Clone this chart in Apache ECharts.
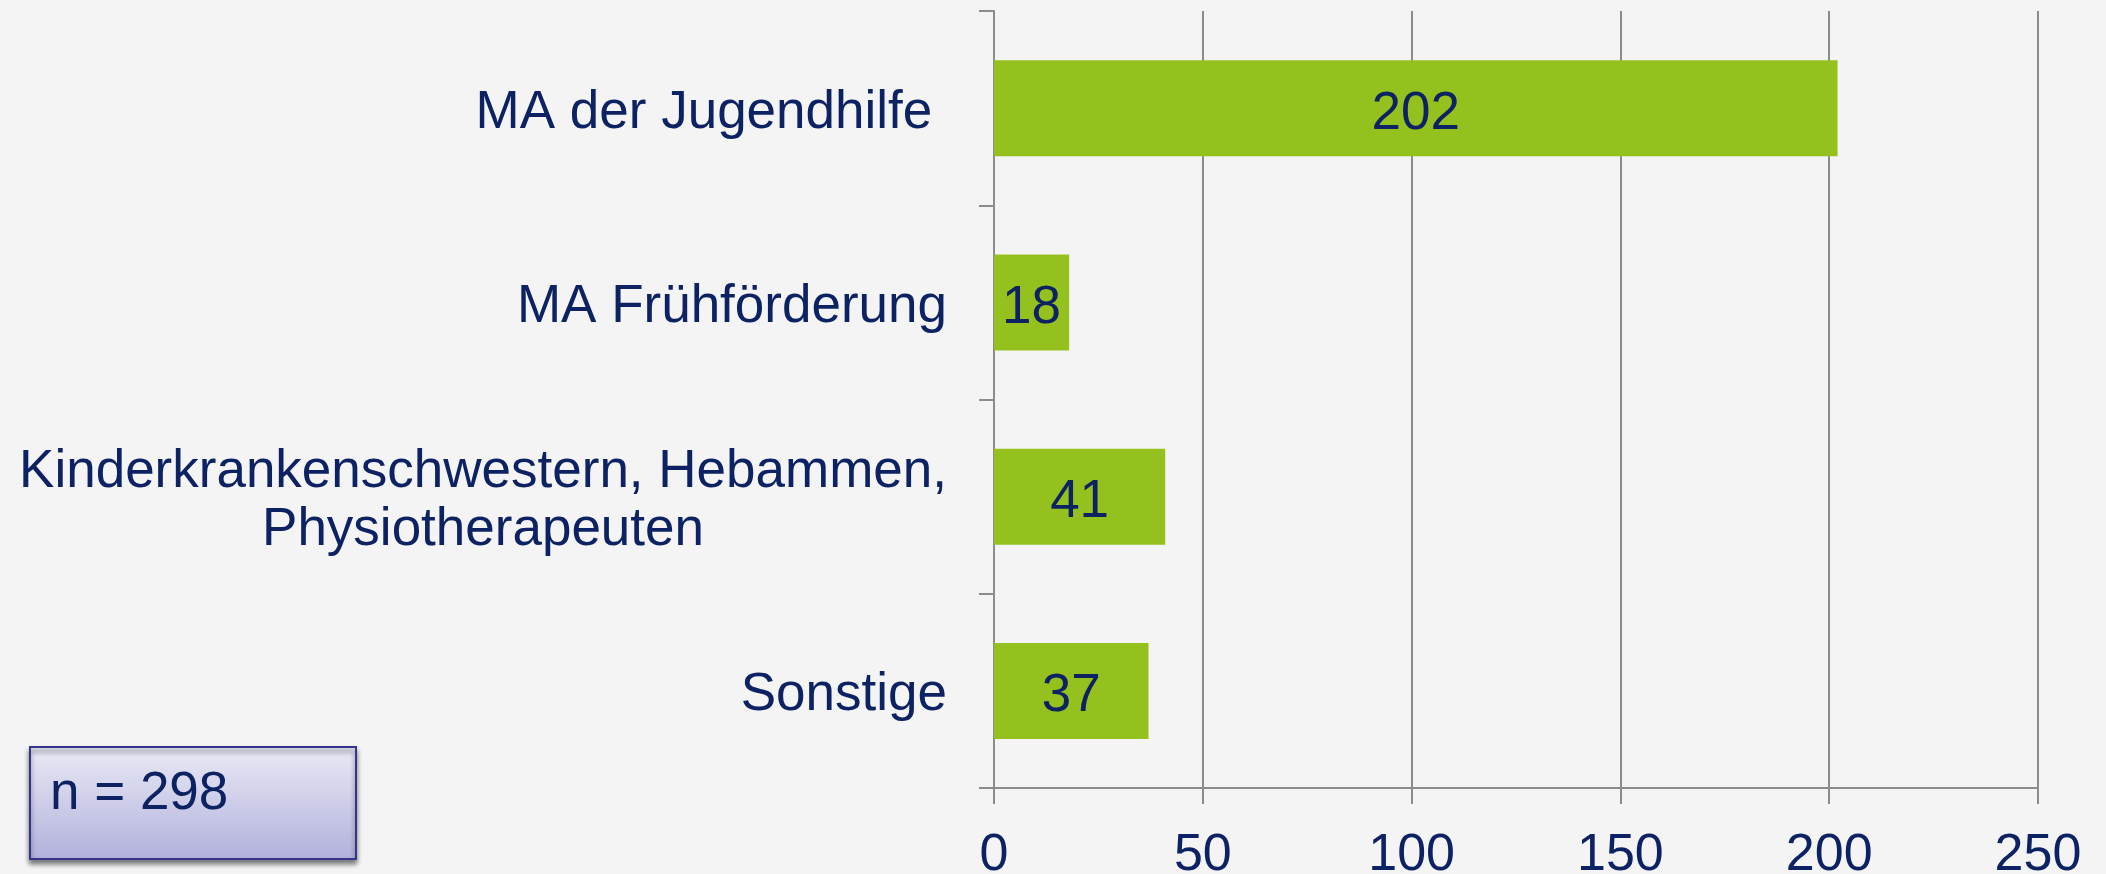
<!DOCTYPE html>
<html>
<head>
<meta charset="utf-8">
<style>
  html, body { margin: 0; padding: 0; background: #f4f4f4; }
  #chart { width: 2106px; height: 874px; }
</style>
<script src="https://cdn.jsdelivr.net/npm/echarts@6/dist/echarts.min.js"></script>
</head>
<body>
<div id="chart"></div>
<script>
// Berufsgruppen und Anzahl
var categories = [
  "MA der Jugendhilfe ",
  "MA Frühförderung",
  "Kinderkrankenschwestern, Hebammen,\nPhysiotherapeuten",
  "Sonstige"
];
var values = [202, 18, 41, 37];
var sampleLabel = "n = 298";

var textColor = "#0d2263";
var gridColor = "#8c8c8c";
var font = "'Liberation Sans', Arial, sans-serif";

var myChart = echarts.init(document.getElementById("chart"));
myChart.setOption({
  backgroundColor: "#f4f4f4",
  animation: false,
  grid: {
    left: 994,
    right: 68,
    top: 11,
    bottom: 86,
    containLabel: false,
    outerBoundsMode: "none"
  },
  xAxis: {
    type: "value",
    min: 0,
    max: 250,
    interval: 50,
    axisLine: { show: true, lineStyle: { color: gridColor, width: 2 } },
    axisTick: { show: true, length: 16, lineStyle: { color: gridColor, width: 2 } },
    splitLine: { show: true, lineStyle: { color: gridColor, width: 2 } },
    axisLabel: {
      color: textColor,
      fontFamily: font,
      fontSize: 52,
      margin: 42
    }
  },
  yAxis: {
    type: "category",
    inverse: true,
    data: categories,
    axisLine: { show: true, lineStyle: { color: gridColor, width: 2 } },
    axisTick: { show: true, length: 15, lineStyle: { color: gridColor, width: 2 } },
    axisLabel: {
      color: textColor,
      fontFamily: font,
      fontSize: 53,
      margin: 47,
      lineHeight: 58,
      padding: [10, 0, 0, 0],
      formatter: function(value) {
        // jede Zeile zentriert innerhalb des Blocks
        return value.split("\n").map(function(line) {
          return "{c|" + line + "}";
        }).join("\n");
      },
      rich: {
        c: {
          align: "center",
          color: textColor,
          fontFamily: font,
          fontSize: 53,
          lineHeight: 58
        }
      }
    }
  },
  series: [
    {
      type: "bar",
      data: values,
      barWidth: 96,
      itemStyle: { color: "#95c11f" },
      label: {
        show: true,
        position: "inside",
        offset: [0, 6],
        color: textColor,
        fontFamily: font,
        fontSize: 53
      }
    }
  ],
  graphic: [
    {
      type: "rect",
      shape: { x: 30, y: 747, width: 326, height: 112 },
      style: {
        fill: new echarts.graphic.LinearGradient(0, 0, 0, 1, [
          { offset: 0, color: "#eaeaf6" },
          { offset: 1, color: "#b1b1dc" }
        ]),
        stroke: "#34348c",
        lineWidth: 2,
        shadowBlur: 5,
        shadowOffsetY: 4,
        shadowColor: "rgba(0,0,0,0.5)"
      }
    },
    {
      type: "text",
      left: 50,
      top: 768,
      style: {
        text: sampleLabel,
        fill: textColor,
        font: "53px " + font
      }
    }
  ]
});
</script>
</body>
</html>
